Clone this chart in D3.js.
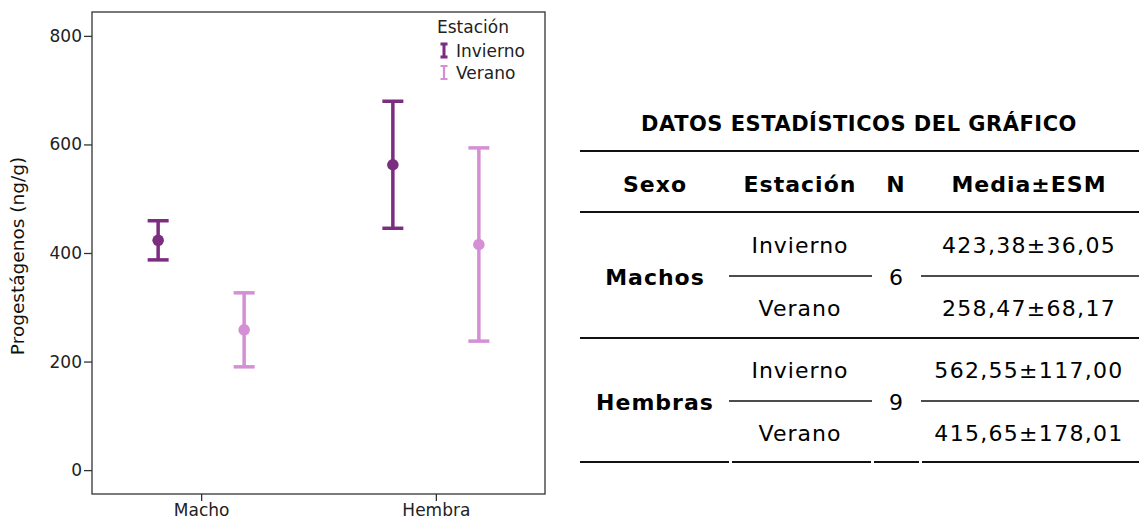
<!DOCTYPE html>
<html>
<head>
<meta charset="utf-8">
<script src="https://cdn.jsdelivr.net/npm/d3@7"></script>
<style>
  body { margin: 0; background: #fff; }
  svg { display: block; }
</style>
</head>
<body>
<svg id="chart" width="1139" height="525"></svg>
<script>
// chart data
const sexCategories = ["Macho", "Hembra"];
const seasons = ["Invierno", "Verano"];
const seasonColors = ["#7b2d80", "#d48fd5"];
const means = [[423.38, 258.47], [562.55, 415.65]];
const sem = [[36.05, 68.17], [117.00, 178.01]];
const yTicks = [0, 200, 400, 600, 800];

// table data
const tableTitle = "DATOS ESTADÍSTICOS DEL GRÁFICO";
const tableHeaders = ["Sexo", "Estación", "N", "Media±ESM"];
const tableSexes = ["Machos", "Hembras"];
const tableN = [6, 9];

const svg = d3.select('#chart');

const plotLeft = 92, plotRight = 545, plotTop = 12, plotBottom = 494;
const axisFont = "'DejaVu Sans', sans-serif";
const tableFont = "'DejaVu Sans', Verdana, sans-serif";
const axisSize = '17px';

const x = d3.scalePoint()
    .domain(sexCategories)
    .range([plotLeft, plotRight])
    .padding(0.465);

const xOffset = d3.scalePoint()
    .domain(seasons)
    .range([-43, 43]);

const y = d3.scaleLinear()
    .domain([-44, 844])
    .range([plotBottom, plotTop]);

const color = d3.scaleOrdinal().domain(seasons).range(seasonColors);

// frame
svg.append('rect')
    .attr('x', plotLeft)
    .attr('y', plotTop)
    .attr('width', plotRight - plotLeft)
    .attr('height', plotBottom - plotTop)
    .attr('fill', 'none')
    .attr('stroke', '#333')
    .attr('stroke-width', 1.3);

const yAxis = svg.append('g')
    .attr('transform', `translate(${plotLeft},0)`)
    .call(d3.axisLeft(y).tickValues(yTicks).tickSize(8).tickPadding(2));
yAxis.select('.domain').remove();

const xAxis = svg.append('g')
    .attr('transform', `translate(0,${plotBottom})`)
    .call(d3.axisBottom(x).tickSize(7).tickPadding(3));
xAxis.select('.domain').remove();

svg.selectAll('.tick line').attr('stroke', '#333').attr('stroke-width', 1.3);
svg.selectAll('.tick text')
    .attr('fill', '#222')
    .style('font-family', axisFont)
    .style('font-size', axisSize);

svg.append('text')
    .attr('transform', `translate(24,256) rotate(-90)`)
    .attr('text-anchor', 'middle')
    .style('font-family', axisFont)
    .style('font-size', '18.5px')
    .attr('fill', '#111')
    .text('Progestágenos (ng/g)');

// error bars
const points = [];
sexCategories.forEach((s, i) => {
    seasons.forEach((season, j) => {
        points.push({ sex: s, season: season, mean: means[i][j], sem: sem[i][j] });
    });
});

const capHalf = 10.5;
const bars = svg.selectAll('g.bar').data(points).join('g')
    .attr('class', 'bar')
    .attr('transform', d => `translate(${x(d.sex) + xOffset(d.season)},0)`)
    .attr('stroke', d => color(d.season))
    .attr('fill', d => color(d.season));

bars.append('line')
    .attr('y1', d => y(d.mean - d.sem))
    .attr('y2', d => y(d.mean + d.sem))
    .attr('stroke-width', 3.5);
bars.append('line')
    .attr('x1', -capHalf).attr('x2', capHalf)
    .attr('y1', d => y(d.mean + d.sem)).attr('y2', d => y(d.mean + d.sem))
    .attr('stroke-width', 3.5);
bars.append('line')
    .attr('x1', -capHalf).attr('x2', capHalf)
    .attr('y1', d => y(d.mean - d.sem)).attr('y2', d => y(d.mean - d.sem))
    .attr('stroke-width', 3.5);
bars.append('circle')
    .attr('cy', d => y(d.mean))
    .attr('r', 5.8)
    .attr('stroke', 'none');

// legend
const legend = svg.append('g').attr('transform', 'translate(437,0)');
legend.append('text')
    .attr('x', 0).attr('y', 33)
    .style('font-family', axisFont)
    .style('font-size', axisSize)
    .attr('fill', '#222')
    .text('Estación');

const legendItems = legend.selectAll('g.item').data(seasons).join('g')
    .attr('class', 'item')
    .attr('transform', (d, i) => `translate(0,${51 + i * 22})`);
legendItems.append('path')
    .attr('d', 'M3.5,-7 H10.5 M7,-7 V6 M3.5,6 H10.5')
    .attr('stroke', d => color(d))
    .attr('stroke-width', d => d === 'Invierno' ? 3 : 2.2)
    .attr('fill', 'none');
legendItems.append('text')
    .attr('x', 19).attr('y', 6)
    .style('font-family', axisFont)
    .style('font-size', axisSize)
    .attr('fill', '#222')
    .text(d => d);

// table
const fmt = v => d3.format('.2f')(v).replace('.', ',');
const colX = [655, 800, 896, 1029];

const cell = (tx, ty, txt, bold, spacing) => svg.append('text')
    .attr('x', tx).attr('y', ty)
    .attr('text-anchor', 'middle')
    .style('font-family', tableFont)
    .style('font-weight', bold ? 'bold' : 'normal')
    .style('font-size', '22px')
    .style('letter-spacing', spacing + 'px')
    .attr('fill', '#000')
    .text(txt);

svg.append('text')
    .attr('x', 859).attr('y', 131)
    .attr('text-anchor', 'middle')
    .style('font-family', tableFont)
    .style('font-weight', 'bold')
    .style('font-size', '21px')
    .style('letter-spacing', '0.5px')
    .attr('fill', '#000')
    .text(tableTitle);

const hLine = (x1, x2, yy, w) => svg.append('line')
    .attr('x1', x1).attr('x2', x2).attr('y1', yy).attr('y2', yy)
    .attr('stroke', '#111').attr('stroke-width', w);

hLine(580, 1139, 151, 2.2);
hLine(580, 1139, 212, 2.2);
hLine(580, 1139, 338, 2.2);
[[580, 729], [732, 871], [874, 919], [922, 1139]].forEach(seg => hLine(seg[0], seg[1], 462, 2.2));

tableHeaders.forEach((h, i) => cell(colX[i], 192, h, true, 1));

tableSexes.forEach((s, i) => {
    const mid = 285 + i * 125;
    hLine(729, 872, mid - 9, 1.6);
    hLine(921, 1139, mid - 9, 1.6);
    cell(colX[0], mid, s, true, 1);
    cell(colX[2], mid, tableN[i], false, 0);
    seasons.forEach((season, j) => {
        const yy = mid - 32 + j * 63;
        cell(colX[1], yy, season, false, 1);
        cell(colX[3], yy, fmt(means[i][j]) + '±' + fmt(sem[i][j]), false, 1.3);
    });
});
</script>
</body>
</html>
